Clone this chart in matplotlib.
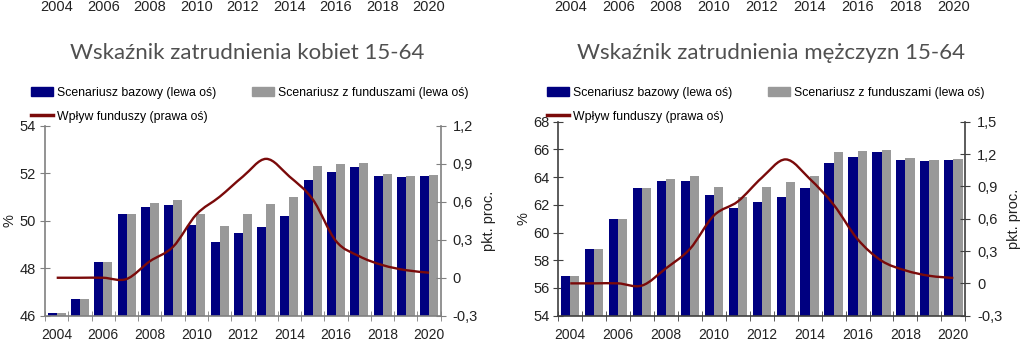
import numpy as np
import matplotlib
matplotlib.use("Agg")
import matplotlib.pyplot as plt
from matplotlib.path import Path
from matplotlib.patches import PathPatch, Patch
from matplotlib.lines import Line2D

# data
years = list(range(2004, 2021))
year_labels = [str(y) if (y - 2004) % 2 == 0 else "" for y in years]

women_base = [46.13, 46.69, 48.25, 50.29, 50.6, 50.65, 49.81, 49.09, 49.5,
              49.72, 50.22, 51.72, 52.05, 52.28, 51.89, 51.85, 51.89]
women_funds = [46.13, 46.69, 48.25, 50.29, 50.77, 50.88, 50.29, 49.77, 50.29,
               50.7, 51.0, 52.33, 52.38, 52.44, 51.97, 51.89, 51.92]
women_impact = [0.0, 0.0, 0.0, -0.01, 0.13, 0.245, 0.5, 0.64, 0.8,
                0.94, 0.8, 0.62, 0.29, 0.17, 0.1, 0.06, 0.04]

men_base = [56.85, 58.8, 61.0, 63.21, 63.72, 63.72, 62.7, 61.75, 62.19,
            62.53, 63.2, 65.05, 65.44, 65.78, 65.25, 65.18, 65.23]
men_funds = [56.85, 58.8, 61.0, 63.21, 63.84, 64.08, 63.3, 62.57, 63.26,
             63.67, 64.08, 65.78, 65.85, 65.99, 65.37, 65.25, 65.32]
men_impact = [0.0, 0.0, 0.0, -0.02, 0.14, 0.32, 0.63, 0.76, 0.98,
              1.15, 0.97, 0.73, 0.41, 0.21, 0.12, 0.07, 0.05]

BLUE = "#000080"
GRAY = "#999999"
RED = "#7a0a0a"
TXT = "#222222"

plt.rcParams["font.family"] = ["Liberation Sans", "DejaVu Sans"]


def smooth_path(x, y):
    # Excel-like smoothed line: Catmull-Rom segments as cubic Beziers
    pts = np.column_stack([x, y]).astype(float)
    n = len(pts)
    verts = [pts[0]]
    codes = [Path.MOVETO]
    for i in range(n - 1):
        p0 = pts[i - 1] if i > 0 else pts[i]
        p1 = pts[i]
        p2 = pts[i + 1]
        p3 = pts[i + 2] if i + 2 < n else pts[i + 1]
        verts += [p1 + (p2 - p0) / 6, p2 - (p3 - p1) / 6, p2]
        codes += [Path.CURVE4] * 3
    return Path(verts, codes)


def panel(fig, rect, title, base, funds, impact, ylim, yticks, rlim, rticks,
          spine_col, title_x, leg_x):
    x = np.arange(len(years))
    ax = fig.add_axes(rect)
    ax.bar(x - 0.193, base, width=0.386, color=BLUE, zorder=2)
    ax.bar(x + 0.193, funds, width=0.386, color=GRAY, zorder=2)
    ax.set_xlim(-0.5, len(years) - 0.5)
    ax.set_ylim(*ylim)
    ax.set_yticks(yticks)
    ax.set_yticklabels([str(v) for v in yticks])
    ax.set_xticks(x)
    ax.set_xticklabels(year_labels)
    ax.set_xticks(np.arange(len(years) + 1) - 0.5, minor=True)
    ax.tick_params(axis="x", which="major", length=0, pad=9, labelsize=10, colors=TXT)
    ax.tick_params(axis="x", which="minor", length=7, direction="inout", color=spine_col)
    ax.tick_params(axis="y", length=7, direction="inout", color=spine_col,
                   labelsize=10.5, labelcolor=TXT, pad=3)
    ax.set_ylabel("%", fontsize=10.5, color=TXT, labelpad=2)
    for s in ["top", "right"]:
        ax.spines[s].set_visible(False)
    for s in ["left", "bottom"]:
        ax.spines[s].set_color(spine_col)
        ax.spines[s].set_linewidth(1.2)

    ax2 = ax.twinx()
    ax2.set_ylim(*rlim)
    ax2.set_yticks(rticks)
    ax2.set_yticklabels([("%g" % v).replace(".", ",") for v in rticks])
    ax2.tick_params(axis="y", length=7, direction="inout", color=spine_col,
                    labelsize=10.5, labelcolor=TXT, pad=5)
    ax2.set_ylabel("pkt. proc.", fontsize=10.5, color=TXT, labelpad=3)
    for s in ["top", "left", "bottom"]:
        ax2.spines[s].set_visible(False)
    ax2.spines["right"].set_color(spine_col)
    ax2.spines["right"].set_linewidth(1.2)
    ax2.add_patch(PathPatch(smooth_path(x, impact), facecolor="none",
                            edgecolor=RED, linewidth=1.7, zorder=3))

    fig.text(title_x, 0.851, title, ha="center", va="center", fontsize=16,
             family=["Lato", "DejaVu Sans"], color="#505050")

    handles = [Patch(color=BLUE), Line2D([], [], color=RED, lw=2.5), Patch(color=GRAY)]
    labels = ["Scenariusz bazowy (lewa oś)", "Wpływ funduszy (prawa oś)",
              "Scenariusz z funduszami (lewa oś)"]
    fig.legend(handles, labels, loc="upper left", bbox_to_anchor=(leg_x, 0.757),
               ncol=2, frameon=False, fontsize=8.8, handlelength=1.85,
               handleheight=0.75, handletextpad=0.3, columnspacing=2.9,
               labelspacing=1.0, borderpad=0, borderaxespad=0)

    # x labels of the chart above, cut at the top edge
    top = fig.add_axes([rect[0], 1.02, rect[2], 0.05])
    top.set_xlim(-0.5, len(years) - 0.5)
    top.set_xticks(x)
    top.set_xticklabels(year_labels)
    top.tick_params(axis="x", length=0, pad=5, labelsize=10.5, colors=TXT)
    top.set_yticks([])
    for s in top.spines.values():
        s.set_visible(False)
    top.patch.set_visible(False)
    return ax


fig = plt.figure(figsize=(10.24, 3.56), dpi=100)
panel(fig, [0.044, 0.1132, 0.3864, 0.533], "Wskaźnik zatrudnienia kobiet 15-64",
      women_base, women_funds, women_impact, (46, 54), [46, 48, 50, 52, 54],
      (-0.3, 1.2), [-0.3, 0, 0.3, 0.6, 0.9, 1.2], "#808080", 0.241, 0.030)
panel(fig, [0.5452, 0.1132, 0.3975, 0.545], "Wskaźnik zatrudnienia mężczyzn 15-64",
      men_base, men_funds, men_impact, (54, 68), [54, 56, 58, 60, 62, 64, 66, 68],
      (-0.3, 1.5), [-0.3, 0, 0.3, 0.6, 0.9, 1.2, 1.5], "#404040", 0.753, 0.534)

fig.savefig("out.png", dpi=100)
